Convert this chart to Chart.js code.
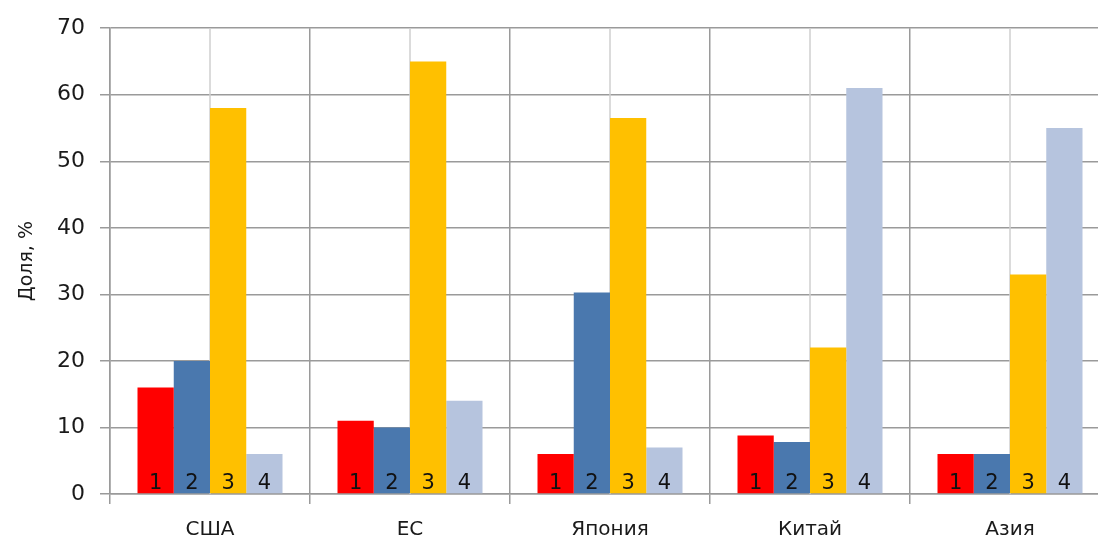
<!DOCTYPE html>
<html>
<head>
<meta charset="utf-8">
<script src="https://cdn.jsdelivr.net/npm/chart.js@4/dist/chart.umd.min.js"></script>
<style>
  html, body { margin: 0; padding: 0; background: #fff; overflow: hidden; }
  #wrap { width: 1112px; height: 541px; }
</style>
</head>
<body>
<div id="wrap"><canvas id="myChart"></canvas></div>
<script>
const categories = ['США', 'ЕС', 'Япония', 'Китай', 'Азия'];
const series1 = [16, 11, 6, 8.8, 6];
const series2 = [20, 10, 30.3, 7.8, 6];
const series3 = [58, 65, 56.5, 22, 33];
const series4 = [6, 14, 7, 61, 55];
const seriesNames = ['1', '2', '3', '4'];
const yTicks = [0, 10, 20, 30, 40, 50, 60, 70];

const colors = ['#ff0000', '#4a78ae', '#ffc000', '#b6c4de'];

// light vertical lines through the middle of every category
const centerLines = {
  id: 'centerLines',
  beforeDatasetsDraw(chart) {
    const ctx = chart.ctx, x = chart.scales.x, area = chart.chartArea;
    ctx.save();
    ctx.strokeStyle = '#cfcfcf';
    ctx.lineWidth = 1.5;
    categories.forEach((c, i) => {
      const px = x.getPixelForValue(i);
      ctx.beginPath();
      ctx.moveTo(px, area.top);
      ctx.lineTo(px, area.bottom);
      ctx.stroke();
    });
    ctx.restore();
  }
};

// series number at the foot of each bar
const barNumbers = {
  id: 'barNumbers',
  afterDatasetsDraw(chart) {
    const ctx = chart.ctx;
    ctx.save();
    ctx.font = '21px "DejaVu Sans"';
    ctx.fillStyle = '#111';
    ctx.textAlign = 'center';
    ctx.textBaseline = 'alphabetic';
    chart.data.datasets.forEach((ds, i) => {
      chart.getDatasetMeta(i).data.forEach(bar => {
        ctx.fillText(ds.label, bar.x, bar.base - 4);
      });
    });
    ctx.restore();
  }
};

const allSeries = [series1, series2, series3, series4];

new Chart(document.getElementById('myChart'), {
  type: 'bar',
  data: {
    labels: categories,
    datasets: allSeries.map((d, i) => ({
      label: seriesNames[i],
      data: d,
      backgroundColor: colors[i],
      borderWidth: 0,
      categoryPercentage: 0.725,
      barPercentage: 1.0
    }))
  },
  options: {
    responsive: true,
    maintainAspectRatio: false,
    animation: false,
    layout: { padding: { top: 9, right: 2, bottom: 0, left: 0 } },
    plugins: {
      legend: { display: false },
      tooltip: { enabled: false }
    },
    scales: {
      x: {
        offset: true,
        afterFit: s => { s.height = 47; },
        grid: {
          offset: true,
          color: '#9a9a9a',
          lineWidth: 1.5,
          tickLength: 10
        },
        border: { color: '#9a9a9a', width: 1.5 },
        ticks: {
          color: '#1a1a1a',
          font: { family: 'DejaVu Sans', size: 20 },
          padding: 14
        }
      },
      y: {
        min: 0,
        max: 70,
        afterBuildTicks: s => { s.ticks = yTicks.map(v => ({ value: v })); },
        afterFit: s => { s.width = 110; },
        grid: { color: '#9a9a9a', lineWidth: 1.5, tickLength: 10 },
        border: { color: '#9a9a9a', width: 1.5 },
        ticks: {
          color: '#1a1a1a',
          font: { family: 'DejaVu Sans', size: 22 },
          padding: 15
        },
        title: {
          display: true,
          text: 'Доля, %',
          color: '#1a1a1a',
          font: { family: 'DejaVu Sans', size: 19 },
          padding: { top: 16, bottom: 0 }
        }
      }
    }
  },
  plugins: [centerLines, barNumbers]
});
</script>
</body>
</html>
